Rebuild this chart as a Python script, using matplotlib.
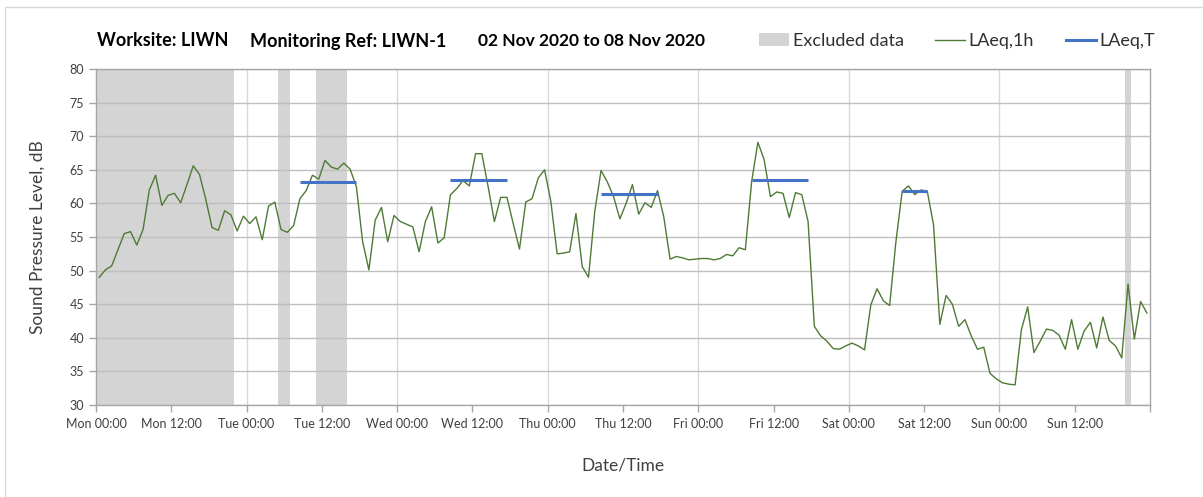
import numpy as np
import matplotlib
matplotlib.use("Agg")
import matplotlib.pyplot as plt
from matplotlib.patches import Patch, Rectangle
from matplotlib.lines import Line2D

plt.rcParams['font.family'] = ['Lato', 'DejaVu Sans']

# hourly LAeq,1h values, Mon 00:00 -> Sun 23:00
laeq_1h = [
    49.0, 50.1, 50.7, 53.1, 55.5, 55.8, 53.8, 56.1, 62.0, 64.2,
    59.7, 61.2, 61.5, 60.1, 62.8, 65.6, 64.3, 60.6, 56.4, 56.0,
    58.9, 58.3, 55.9, 58.1, 57.0, 58.0, 54.6, 59.6, 60.2, 56.1,
    55.7, 56.7, 60.7, 61.9, 64.2, 63.6, 66.4, 65.4, 65.1, 66.0,
    65.1, 62.5, 54.3, 50.1, 57.5, 59.4, 54.3, 58.2, 57.3, 56.9,
    56.5, 52.8, 57.3, 59.5, 54.1, 54.9, 61.3, 62.2, 63.4, 62.6,
    67.4, 67.4, 62.5, 57.3, 60.9, 60.9, 57.0, 53.2, 60.2, 60.7,
    63.8, 65.0, 60.3, 52.5, 52.6, 52.8, 58.5, 50.6, 49.0, 58.8,
    64.9, 63.2, 61.0, 57.7, 60.0, 62.8, 58.4, 60.1, 59.4, 61.9,
    58.0, 51.7, 52.1, 51.9, 51.6, 51.7, 51.8, 51.8, 51.6, 51.8,
    52.4, 52.2, 53.4, 53.1, 63.2, 69.1, 66.5, 61.0, 61.7, 61.5,
    57.9, 61.6, 61.3, 57.3, 41.7, 40.3, 39.5, 38.4, 38.3, 38.8,
    39.2, 38.8, 38.2, 44.9, 47.3, 45.5, 44.8, 54.3, 61.8, 62.6,
    61.3, 62.0, 61.8, 56.8, 42.0, 46.3, 45.0, 41.7, 42.7, 40.3,
    38.3, 38.6, 34.7, 33.9, 33.3, 33.1, 33.0, 41.2, 44.6, 37.8,
    39.5, 41.3, 41.1, 40.4, 38.3, 42.7, 38.3, 41.0, 42.3, 38.5,
    43.1, 39.6, 38.8, 37.0, 48.0, 39.8, 45.4, 43.7,
]

# LAeq,T periods (first hour, last hour, level)
laeq_t_start = [32, 56, 80, 104, 128]
laeq_t_end = [41, 65, 89, 113, 132]
laeq_t_level = [63.2, 63.5, 61.4, 63.5, 61.8]

# excluded periods (hours from Mon 00:00)
excl_start = [0, 29, 35, 164]
excl_end = [22, 31, 40, 165]

days = ['Mon', 'Tue', 'Wed', 'Thu', 'Fri', 'Sat', 'Sun']

hours = np.arange(len(laeq_1h)) + 0.5

fig = plt.figure(figsize=(12.03, 4.97), dpi=100)
ax = fig.add_axes([96/1203, 1 - 405/497, (1150 - 96)/1203, (405 - 69)/497])

for s, e in zip(excl_start, excl_end):
    ax.axvspan(s, e, color='#d4d4d4', lw=0, zorder=1)

ax.plot(hours, laeq_1h, color='#4f7a35', lw=1.0, zorder=3)
for s, e, v in zip(laeq_t_start, laeq_t_end, laeq_t_level):
    ax.plot([s + 0.5, e + 0.5], [v, v], color='#4472c4', lw=2.2, zorder=4,
            solid_capstyle='butt')

ax.set_xlim(0, 168)
ax.set_ylim(30, 80)
ax.set_yticks(np.arange(30, 81, 5))
xt = np.arange(0, 169, 12)
ax.set_xticks(xt)
ax.set_xticklabels([f'{days[int(t // 24)]} {int(t % 24):02d}:00' if t < 168 else ''
                    for t in xt])

# grid: horizontal every 5 dB, vertical only at midnights
ax.grid(axis='y', color='#bfbfbf', lw=1.0, zorder=0)
for t in range(24, 168, 24):
    ax.axvline(t, color='#d9d9d9', lw=1.0, zorder=0)

for sp in ax.spines.values():
    sp.set_color('#a6a6a6')
    sp.set_linewidth(1.0)
ax.tick_params(axis='both', colors='#a6a6a6', labelcolor='#404040',
               labelsize=9, length=5, width=1)
ax.tick_params(axis='x', pad=4)

ax.set_ylabel('Sound Pressure Level, dB', fontsize=12.5, color='#404040', labelpad=17)
ax.set_xlabel('Date/Time', fontsize=12.5, color='#404040', labelpad=20)

ty = 1 - 41/497
fig.text(97/1203, ty, 'Worksite: LIWN', fontsize=13, fontweight='bold', va='center')
fig.text(250/1203, ty, 'Monitoring Ref: LIWN-1', fontsize=13, fontweight='bold', va='center')
fig.text(478/1203, ty, '02 Nov 2020 to 08 Nov 2020', fontsize=12.5, fontweight='bold', va='center')

handles = [Patch(facecolor='#d4d4d4', edgecolor='none', label='Excluded data'),
           Line2D([], [], color='#4f7a35', lw=1.0, label='LAeq,1h'),
           Line2D([], [], color='#4472c4', lw=2.2, label='LAeq,T')]
fig.legend(handles=handles, loc='center right', bbox_to_anchor=(1171/1203, ty),
           ncol=3, frameon=False, fontsize=13, handlelength=1.65,
           handletextpad=0.2, columnspacing=1.75, labelcolor='#303030')

fig.patches.append(Rectangle((5/1203, -0.1), 1.2, 1.1 - 7/497,
                             transform=fig.transFigure, fill=False,
                             edgecolor='#d9d9d9', lw=1.0))

fig.savefig('out.png', dpi=100)
